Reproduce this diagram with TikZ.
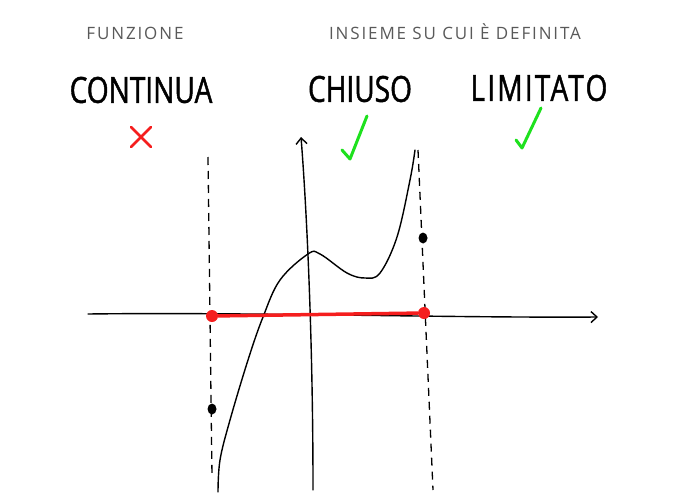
\documentclass[tikz,border=0pt]{standalone}
\usepackage{fontspec}
\setmainfont{Open Sans}
\newfontfamily\handfont[FakeStretch=0.78,FakeBold=1.2]{Open Sans}
\newfontfamily\handwidefont[FakeStretch=0.78,FakeBold=1.2,LetterSpace=6]{Open Sans}
\newfontfamily\notefont[LetterSpace=11]{Open Sans}
\usetikzlibrary{arrows.meta,shapes.geometric}
\definecolor{markred}{RGB}{245,30,30}
\definecolor{markgreen}{RGB}{30,225,30}
\tikzset{
  smalllabel/.style={text=black!65,font=\notefont\fontsize{17}{17}\selectfont},
  biglabel/.style={font=\handfont\fontsize{36}{36}\selectfont},
  axis/.style={line width=1.4pt,line cap=round,-{Straight Barb[length=6pt,width=11pt]}},
  guide/.style={line width=1.3pt,dash pattern=on 8pt off 6pt},
  curve/.style={line width=1.4pt,line cap=round},
  cross/.style={markred,line width=2.6pt,line cap=round},
  checkmark/.style={markgreen,line width=3pt,line cap=round,line join=round},
  reddot/.style={circle,fill=markred,minimum size=12pt,inner sep=0pt},
  blackdot/.style={ellipse,fill=black,minimum width=9pt,minimum height=11pt,inner sep=0pt}
}
\begin{document}
\begin{tikzpicture}[x=1pt,y=-1pt]
  \useasboundingbox (0,0) rectangle (700,500);
  % titles
  \node[smalllabel] (funzione) at (135,33) {FUNZIONE};
  \node[smalllabel] (insieme) at (455,32) {INSIEME SU CUI È DEFINITA};
  \node[biglabel] (continua) at (141,90) {CONTINUA};
  \node[biglabel] (chiuso) at (360,89) {CHIUSO};
  \node[biglabel,font=\handwidefont\fontsize{36}{36}\selectfont] (limitato) at (539,88) {LIMITATO};
  % marks
  \draw[cross] (131,127) -- (151,147) (151,127) -- (131,147);
  \draw[checkmark] (342,150) -- (350,159) -- (367,116);
  \draw[checkmark] (516,140) -- (522,148) -- (541,108);
  % axes
  \coordinate (xl) at (88,314);
  \coordinate (xr) at (598,317);
  \coordinate (yb) at (313,490);
  \coordinate (yt) at (301,137);
  \draw[axis] (xl) .. controls (250,312) and (450,318) .. (xr);
  \draw[axis] (yb) .. controls (313,330) and (306,200) .. (yt);
  % dashed bounds
  \coordinate (lt) at (208,157);
  \coordinate (lb) at (212,477);
  \coordinate (rt) at (418,150);
  \coordinate (rb) at (433,490);
  \draw[guide] (lt) -- (lb);
  \draw[guide] (rt) -- (rb);
  % the function
  \draw[curve] plot[smooth,tension=0.6] coordinates {(218,492) (220,460) (230,420)
    (248,360) (263,317) (280,280) (308,254) (320,254) (347,273) (365,278)
    (380,273) (397,237) (410,180) (415,150)};
  % interval and values
  \node[reddot] (a) at (212,316) {};
  \node[reddot] (b) at (424,313) {};
  \draw[markred,line width=3.5pt] (a) -- (b);
  \node[blackdot] (fa) at (212,409) {};
  \node[blackdot] (fb) at (423,238) {};
\end{tikzpicture}
\end{document}
